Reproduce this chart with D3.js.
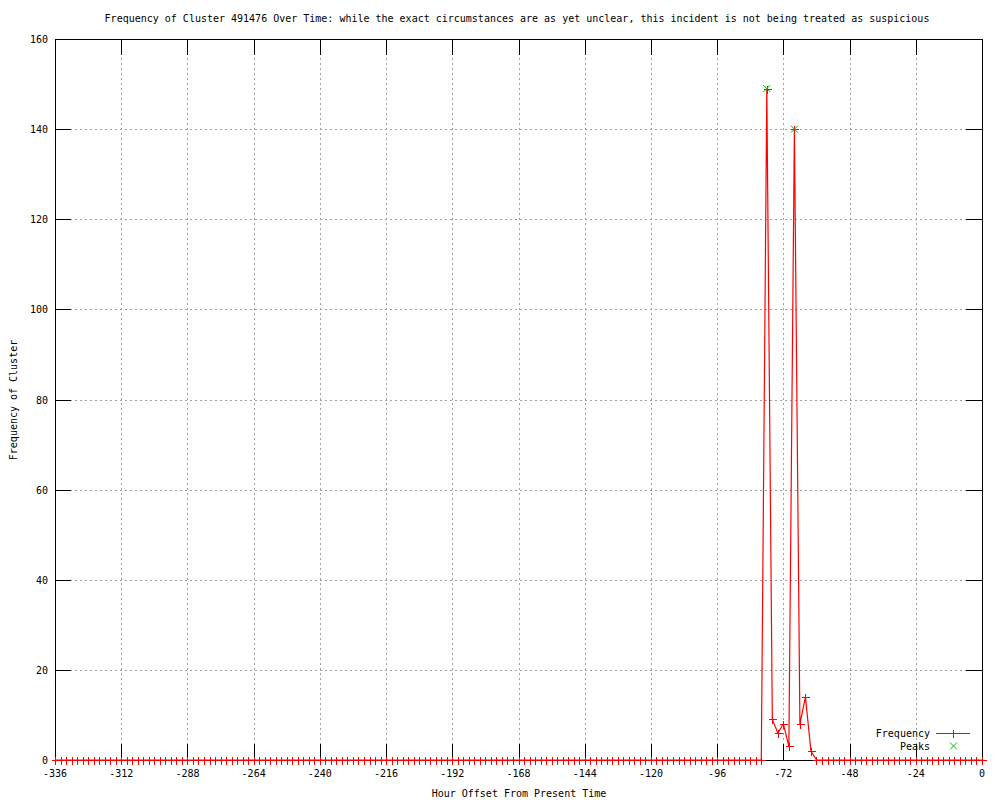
<!DOCTYPE html>
<html>
<head>
<meta charset="utf-8">
<script src="https://cdn.jsdelivr.net/npm/d3@7"></script>
<style>
  body { margin: 0; background: #fff; }
  svg text { font-family: "DejaVu Sans Mono", "Liberation Mono", monospace; font-size: 10px; fill: #000; }
</style>
</head>
<body>
<div id="chart"></div>
<script>
// Samples every 2 hours, -336 .. 0
const hours = d3.range(-336, 1, 2);

// Frequency per sample (index 0 = -336h)
const frequency = [
  0, 0, 0, 0, 0, 0, 0, 0, 0, 0, 0, 0, 0, 0, 0, 0, 0, 0, 0, 0,
  0, 0, 0, 0, 0, 0, 0, 0, 0, 0, 0, 0, 0, 0, 0, 0, 0, 0, 0, 0,
  0, 0, 0, 0, 0, 0, 0, 0, 0, 0, 0, 0, 0, 0, 0, 0, 0, 0, 0, 0,
  0, 0, 0, 0, 0, 0, 0, 0, 0, 0, 0, 0, 0, 0, 0, 0, 0, 0, 0, 0,
  0, 0, 0, 0, 0, 0, 0, 0, 0, 0, 0, 0, 0, 0, 0, 0, 0, 0, 0, 0,
  0, 0, 0, 0, 0, 0, 0, 0, 0, 0, 0, 0, 0, 0, 0, 0, 0, 0, 0, 0,
  0, 0, 0, 0, 0, 0, 0, 0, 0, 149, 9, 6, 8, 3, 140, 8, 14, 2, 0, 0,
  0, 0, 0, 0, 0, 0, 0, 0, 0, 0, 0, 0, 0, 0, 0, 0, 0, 0, 0, 0,
  0, 0, 0, 0, 0, 0, 0, 0, 0
];

const peakHours = [-78, -68];
const peakValues = [149, 140];

const xTicks = [-336, -312, -288, -264, -240, -216, -192, -168, -144, -120, -96, -72, -48, -24, 0];
const yTicks = [0, 20, 40, 60, 80, 100, 120, 140, 160];

const title = 'Frequency of Cluster 491476 Over Time: while the exact circumstances are as yet unclear, this incident is not being treated as suspicious';

const RED = '#ff0000';
const GREEN = '#00c000';

const width = 1000, height = 800;
const margin = { top: 39, right: 18, bottom: 40, left: 55 };
const tickLen = 16;

const svg = d3.select('#chart').append('svg')
  .attr('width', width)
  .attr('height', height);

const x = d3.scaleLinear().domain([-336, 0]).range([margin.left, width - margin.right]);
const y = d3.scaleLinear().domain([0, 160]).range([height - margin.bottom, margin.top]);

const x0 = x.range()[0], x1 = x.range()[1];
const y0 = y.range()[0], y1 = y.range()[1];

// Grid
const grid = svg.append('g')
  .style('stroke', '#a0a0a0')
  .style('stroke-width', 1)
  .style('stroke-dasharray', '2,3')
  .attr('shape-rendering', 'crispEdges');

grid.selectAll('.gx')
  .data(xTicks.filter(d => d !== -336 && d !== 0))
  .enter().append('line')
  .attr('x1', d => Math.round(x(d)) + 0.5).attr('x2', d => Math.round(x(d)) + 0.5)
  .attr('y1', y0).attr('y2', y1);

grid.selectAll('.gy')
  .data(yTicks.filter(d => d !== 0 && d !== 160))
  .enter().append('line')
  .attr('y1', d => Math.round(y(d)) + 0.5).attr('y2', d => Math.round(y(d)) + 0.5)
  .attr('x1', x0).attr('x2', x1);

// Tick marks (inward, mirrored)
const ticks = svg.append('g')
  .style('stroke', '#000')
  .style('stroke-width', 1)
  .attr('shape-rendering', 'crispEdges');

xTicks.forEach(d => {
  const px = Math.round(x(d)) + 0.5;
  ticks.append('line').attr('x1', px).attr('x2', px).attr('y1', y0).attr('y2', y0 - tickLen);
  ticks.append('line').attr('x1', px).attr('x2', px).attr('y1', y1).attr('y2', y1 + tickLen);
});
yTicks.forEach(d => {
  const py = Math.round(y(d)) + 0.5;
  ticks.append('line').attr('y1', py).attr('y2', py).attr('x1', x0).attr('x2', x0 + tickLen);
  ticks.append('line').attr('y1', py).attr('y2', py).attr('x1', x1).attr('x2', x1 - tickLen);
});

// Tick labels
svg.append('g').selectAll('text')
  .data(xTicks)
  .enter().append('text')
  .attr('x', d => x(d))
  .attr('y', y0 + 17)
  .attr('text-anchor', 'middle')
  .text(d => d);

svg.append('g').selectAll('text')
  .data(yTicks)
  .enter().append('text')
  .attr('x', x0 - 7)
  .attr('y', d => y(d) + 4)
  .attr('text-anchor', 'end')
  .text(d => d);

// Border
svg.append('rect')
  .attr('x', x0 + 0.5).attr('y', y1 + 0.5)
  .attr('width', x1 - x0).attr('height', y0 - y1)
  .style('fill', 'none')
  .style('stroke', '#000')
  .attr('shape-rendering', 'crispEdges');

// Frequency line
const series = hours.map((h, i) => ({ h, v: frequency[i] }));
const line = d3.line().x(d => x(d.h)).y(d => y(d.v));

svg.append('path')
  .datum(series)
  .attr('d', line)
  .style('fill', 'none')
  .style('stroke', RED)
  .style('stroke-width', 1.2);

const plus = (g, cx, cy, color) => {
  g.append('line').attr('x1', cx - 4).attr('x2', cx + 4).attr('y1', cy).attr('y2', cy).style('stroke', color);
  g.append('line').attr('x1', cx).attr('x2', cx).attr('y1', cy - 4).attr('y2', cy + 4).style('stroke', color);
};
const cross = (g, cx, cy, color) => {
  g.append('line').attr('x1', cx - 3.5).attr('x2', cx + 3.5).attr('y1', cy - 3.5).attr('y2', cy + 3.5).style('stroke', color);
  g.append('line').attr('x1', cx - 3.5).attr('x2', cx + 3.5).attr('y1', cy + 3.5).attr('y2', cy - 3.5).style('stroke', color);
};

const marks = svg.append('g').attr('shape-rendering', 'crispEdges');
series.forEach(d => plus(marks, Math.round(x(d.h)) + 0.5, Math.round(y(d.v)) + 0.5, RED));

// Peaks
const peakG = svg.append('g');
peakHours.forEach((h, i) => cross(peakG, x(h), y(peakValues[i]), GREEN));

// Legend
const legend = svg.append('g');
legend.append('text').attr('x', 930).attr('y', 737).attr('text-anchor', 'end').text('Frequency');
legend.append('line')
  .attr('x1', 936).attr('x2', 970).attr('y1', 733.5).attr('y2', 733.5)
  .style('stroke', RED).attr('shape-rendering', 'crispEdges');
const legendMarks = legend.append('g').attr('shape-rendering', 'crispEdges');
plus(legendMarks, 953.5, 733.5, RED);
legend.append('text').attr('x', 930).attr('y', 750).attr('text-anchor', 'end').text('Peaks');
cross(legend, 953.5, 746, GREEN);

// Title and axis labels
svg.append('text')
  .attr('x', 517).attr('y', 22)
  .attr('text-anchor', 'middle')
  .text(title);

svg.append('text')
  .attr('x', 519).attr('y', 797)
  .attr('text-anchor', 'middle')
  .text('Hour Offset From Present Time');

svg.append('text')
  .attr('transform', 'translate(17,400) rotate(-90)')
  .attr('text-anchor', 'middle')
  .text('Frequency of Cluster');
</script>
</body>
</html>
